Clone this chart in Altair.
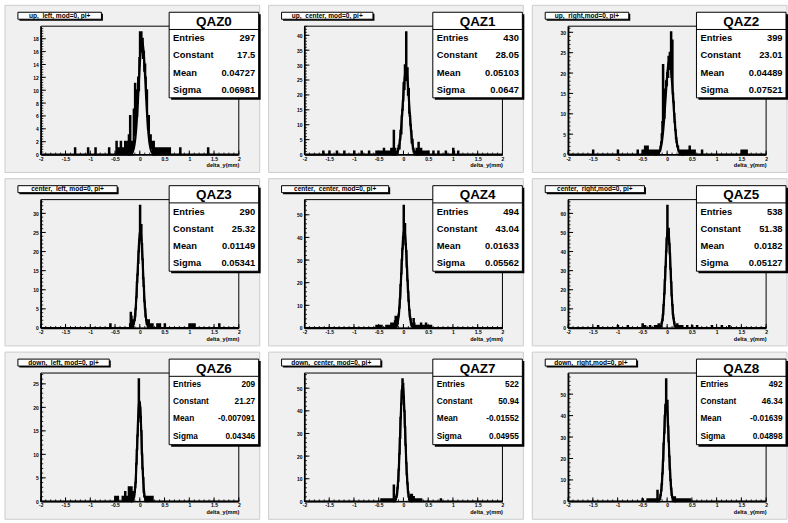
import altair as alt
import numpy as np
import pandas as pd

# ---------------- data ----------------
BIN_W = 0.0125
X_LO, X_HI = -2.0, 2.0

panel_titles = [
    "up,  left, mod=0, pi+", "up,  center, mod=0, pi+", "up,  right,mod=0, pi+",
    "center,  left, mod=0, pi+", "center,  center, mod=0, pi+", "center,  right,mod=0, pi+",
    "down,  left, mod=0, pi+", "down,  center, mod=0, pi+", "down,  right,mod=0, pi+",
]
stat_names = ["QAZ0", "QAZ1", "QAZ2", "QAZ3", "QAZ4", "QAZ5", "QAZ6", "QAZ7", "QAZ8"]
stat_entries = [297, 430, 399, 290, 494, 538, 209, 522, 492]
stat_constant = [17.5, 28.05, 23.01, 25.32, 43.04, 51.38, 21.27, 50.94, 46.34]
stat_mean = [0.04727, 0.05103, 0.04489, 0.01149, 0.01633, 0.0182, -0.007091, -0.01552, -0.01639]
stat_sigma = [0.06981, 0.0647, 0.07521, 0.05341, 0.05562, 0.05127, 0.04346, 0.04955, 0.04898]

y_tick_step = [2, 5, 5, 5, 10, 10, 5, 10, 10]
y_tick_top = [18, 40, 30, 30, 50, 60, 25, 50, 50]

x_tick_labels = [-2, -1.5, -1, -0.5, 0, 0.5, 1, 1.5, 2]

peak_start = [-0.175, -0.15, -0.2, -0.15, -0.15, -0.15, -0.125, -0.175, -0.175]
peak_counts = [
    [1, 0, 2, 1, 7, 3, 11, 4, 10, 6, 8, 12, 10, 15, 19, 17, 19, 16, 18, 15, 16, 13, 14, 12, 9, 10, 6, 4, 6, 3, 2, 3, 1, 1, 2, 0],
    [0, 1, 1, 2, 3, 2, 5, 8, 7, 13, 15, 18, 24, 22, 30, 26, 41, 25, 29, 20, 22, 14, 13, 10, 8, 4, 5, 2, 1, 1, 0, 1],
    [0, 1, 0, 1, 1, 2, 3, 5, 8, 22, 12, 9, 14, 16, 18, 17, 20, 19, 24, 21, 25, 23, 30, 19, 28, 15, 13, 10, 8, 6, 4, 3, 2, 2, 1, 1, 0, 1, 0, 0],
    [0, 1, 2, 2, 3, 5, 8, 12, 14, 17, 20, 23, 32, 24, 27, 22, 18, 13, 11, 7, 5, 3, 2, 1, 1, 0],
    [1, 1, 2, 5, 6, 9, 13, 19, 24, 30, 35, 40, 54, 44, 46, 37, 34, 27, 21, 16, 12, 8, 5, 4, 2, 1, 1, 0],
    [0, 1, 1, 3, 4, 7, 12, 18, 25, 32, 40, 47, 64, 50, 52, 44, 39, 31, 24, 17, 12, 7, 5, 3, 1, 1, 0, 0],
    [1, 2, 3, 4, 8, 11, 14, 17, 26, 21, 20, 18, 15, 10, 7, 5, 2, 1, 1, 0],
    [0, 1, 2, 3, 6, 9, 14, 21, 28, 37, 43, 49, 54, 52, 46, 40, 33, 25, 17, 12, 8, 4, 2, 1, 1, 0],
    [0, 1, 1, 3, 5, 8, 13, 19, 27, 32, 40, 45, 57, 43, 47, 35, 28, 21, 15, 10, 6, 3, 2, 1, 0, 0],
]
tail_x = [
    [-1.31, -1.05, -0.9, -0.62, -0.47, -0.43, -0.38, -0.33, -0.3, -0.27, -0.25, -0.22, -0.2, -0.19,
     0.28, 0.3, 0.33, 0.36, 0.4, 0.45, 0.5, 0.55, 0.6, 0.82, 1.38],
    [-1.62, -1.5, -1.35, -1.2, -1.0, -0.85, -0.7, -0.55, -0.5, -0.45, -0.4, -0.35, -0.3, -0.25, -0.2, -0.19, -0.175, -0.16,
     0.27, 0.3, 0.32, 0.35, 0.4, 0.45, 0.5, 0.6, 0.7, 0.85, 1.0, 1.02, 1.1],
    [-1.5, -1.0, -0.6, -0.5, -0.45, -0.4, -0.35, -0.3, -0.25, -0.21,
     0.32, 0.35, 0.4, 0.45, 0.5, 0.55, 0.7, 1.5, 1.55, 1.6],
    [-0.6, -0.2, -0.18, -0.165, 0.18, 0.2, 0.25, 0.35, 0.4, 0.5, 1.0, 1.05, 1.1, 1.6],
    [-0.55, -0.5, -0.45, -0.35, -0.3, -0.25, -0.2, -0.17, -0.16,
     0.2, 0.22, 0.25, 0.3, 0.35, 0.4, 0.45, 0.5, 0.55],
    [-1.4, -1.0, -0.8, -0.5, -0.45, -0.35, -0.25, -0.2, -0.17,
     0.2, 0.25, 0.3, 0.4, 0.5, 0.6, 0.9, 1.1, 1.25],
    [-0.5, -0.45, -0.35, -0.3, -0.25, -0.22, -0.2, -0.17, -0.15, -0.13,
     0.13, 0.15, 0.18, 0.2, 0.22, 0.25],
    [-0.45, -0.4, -0.35, -0.3, -0.25, -0.2, -0.19, 0.15, 0.17, 0.2, 0.25, 0.3, 0.35, 0.75],
    [-0.5, -0.4, -0.35, -0.3, -0.25, -0.2, -0.19, 0.15, 0.2, 0.25, 0.3, 0.35, 0.4, 0.45],
]
tail_n = [
    [1, 1, 1, 1, 2, 1, 2, 1, 2, 1, 2, 3, 2, 4, 2, 1, 1, 1, 1, 1, 1, 1, 1, 1, 1],
    [1, 1, 1, 1, 1, 1, 1, 1, 1, 1, 2, 1, 1, 2, 5, 3, 2, 1, 2, 4, 1, 2, 1, 1, 1, 1, 1, 1, 2, 1, 1],
    [1, 1, 1, 1, 2, 2, 1, 1, 1, 1, 1, 1, 1, 2, 1, 1, 1, 1, 1, 1],
    [1, 1, 4, 3, 2, 1, 1, 1, 1, 1, 1, 1, 1, 1],
    [1, 1, 1, 1, 1, 2, 2, 3, 5, 4, 2, 1, 1, 2, 1, 2, 1, 1],
    [1, 1, 1, 2, 1, 1, 1, 1, 2, 2, 1, 1, 1, 1, 1, 1, 1, 1],
    [1, 1, 1, 2, 1, 3, 2, 3, 1, 2, 1, 1, 1, 1, 1, 1],
    [1, 1, 1, 1, 1, 2, 5, 3, 3, 2, 1, 1, 1, 1],
    [1, 1, 1, 1, 1, 2, 3, 2, 1, 1, 1, 1, 1, 1],
]

# ---------------- layout / style ----------------
W, H = 199, 129
FONT = "Liberation Sans"
PAD_FILL = "#f0f0f0"


def rect(x1, x2, y1, y2, **kw):
    return alt.Chart().mark_rect(**kw).encode(
        x=alt.value(x1), x2=alt.value(x2), y=alt.value(y1), y2=alt.value(y2))


def txt(s, x, y, size, align="left"):
    return alt.Chart().mark_text(
        text=s, fontSize=size, font=FONT, fontWeight="bold", align=align,
        baseline="middle", color="black").encode(x=alt.value(x), y=alt.value(y))


def panel(i):
    nb = int(round((X_HI - X_LO) / BIN_W))
    counts = np.zeros(nb)
    s = int(round((peak_start[i] - X_LO) / BIN_W))
    for j, c in enumerate(peak_counts[i]):
        counts[s + j] += c
    for xv, n in zip(tail_x[i], tail_n[i]):
        counts[int(np.floor((xv - X_LO) / BIN_W + 1e-9))] += n
    centers = X_LO + (np.arange(nb) + 0.5) * BIN_W
    hist = pd.DataFrame({"x": centers, "n": counts})
    ymax = float(counts.max()) * 1.05

    xs = alt.Scale(domain=[X_LO, X_HI], nice=False, zero=False)
    ys = alt.Scale(domain=[0, ymax], nice=False, zero=True)

    step = y_tick_step[i]
    ymaj = [float(v) for v in np.arange(0, y_tick_top[i] + step / 2, step)]
    ymin = [float(v) for v in np.arange(0, ymax, step / 5.0)]
    xmaj = x_tick_labels
    xmin = [float(v) for v in np.round(np.arange(X_LO, X_HI + 0.05, 0.1), 3)]

    ax_x = alt.Axis(
        values=xmaj, ticks=False, grid=False, zindex=1,
        labelExpr="datum.value == 0 ? '0' : (datum.value < 0 ? '-' : '') + abs(datum.value)",
        labelFontSize=5, labelFont=FONT, labelFontWeight="bold", labelPadding=1.5,
        labelFlush=False, labelOverlap=False, labelColor="black",
        domainColor="black", domainWidth=1.5,
        title="delta_y(mm)", titleAnchor="end", titleAlign="right", titleFontSize=5.6,
        titleFont=FONT, titleFontWeight="bold", titlePadding=2, titleColor="black")
    ax_y = alt.Axis(
        values=ymaj, ticks=False, grid=False, zindex=1, title="",
        labelFontSize=5, labelFont=FONT, labelFontWeight="bold", labelPadding=2.5,
        labelFlush=False, labelOverlap=False, labelColor="black",
        domainColor="black", domainWidth=1.5)

    layers = []
    # pad & frame
    layers.append(rect(-36, 220, -21, 147, fill=PAD_FILL, stroke="#cccccc", strokeWidth=1))
    layers.append(rect(0, W, 0, H, fill="white", fillOpacity=0, stroke="black", strokeWidth=1))

    # ticks (inward, ROOT style)
    layers.append(alt.Chart(pd.DataFrame({"v": ymin})).mark_rule(color="black", strokeWidth=0.8).encode(
        y=alt.Y("v:Q", scale=ys, axis=ax_y), x=alt.value(0), x2=alt.value(2.5)))
    layers.append(alt.Chart(pd.DataFrame({"v": ymaj})).mark_rule(color="black", strokeWidth=1).encode(
        y=alt.Y("v:Q", scale=ys, axis=ax_y), x=alt.value(0), x2=alt.value(5)))
    layers.append(alt.Chart(pd.DataFrame({"v": xmin})).mark_rule(color="black", strokeWidth=0.8).encode(
        x=alt.X("v:Q", scale=xs, axis=ax_x), y=alt.value(H), y2=alt.value(H - 2)))
    layers.append(alt.Chart(pd.DataFrame({"v": xmaj})).mark_rule(color="black", strokeWidth=1).encode(
        x=alt.X("v:Q", scale=xs, axis=ax_x), y=alt.value(H), y2=alt.value(H - 4)))

    # histogram
    layers.append(alt.Chart(hist).mark_line(interpolate="step", color="black", strokeWidth=1.9).encode(
        x=alt.X("x:Q", scale=xs, axis=ax_x),
        y=alt.Y("n:Q", scale=ys, axis=ax_y),
    ))

    # gaussian fit from the fitted parameters
    C, mu, sg = stat_constant[i], stat_mean[i], stat_sigma[i]
    layers.append(alt.Chart(alt.sequence(mu - 4 * sg, mu + 4 * sg, sg / 25.0, as_="x")).transform_calculate(
        f=f"{C}*exp(-0.5*pow((datum.x-({mu}))/{sg},2))").mark_line(color="black", strokeWidth=2.2).encode(
        x=alt.X("x:Q", scale=xs, axis=ax_x), y=alt.Y("f:Q", scale=ys, axis=ax_y)))

    # title box
    t = panel_titles[i]
    tw = len(t) * 3.95 + 1
    layers.append(rect(-21.5, -23 + tw + 1.5, -12.5, -5.5, fill="black"))
    layers.append(rect(-23, -23 + tw, -14, -7, fill="white", stroke="black", strokeWidth=1))
    layers.append(txt(t.replace("  ", " \u00a0"), -23 + tw / 2, -10.3, 6.6, align="center"))

    # stats box
    bx1, bx2, by1, by2 = 129, 219, -14, 72
    layers.append(rect(bx1 + 2, bx2 + 2, by1 + 2, by2 + 2, fill="black"))
    layers.append(rect(bx1, bx2, by1, by2, fill="white", stroke="black", strokeWidth=1))
    layers.append(alt.Chart().mark_rule(color="black", strokeWidth=1).encode(
        x=alt.value(bx1), x2=alt.value(bx2), y=alt.value(3.3)))
    layers.append(txt(stat_names[i], (bx1 + bx2) / 2, -4.5, 13.5, align="center"))
    fs = 8.3 if i >= 6 else 9.4
    labels = ["Entries", "Constant", "Mean", "Sigma"]
    values = [str(stat_entries[i]), str(stat_constant[i]), str(stat_mean[i]), str(stat_sigma[i])]
    rows_y = [12, 29.3, 46.7, 64]
    for lab, val, yy in zip(labels, values, rows_y):
        layers.append(txt(lab, bx1 + 4, yy, fs, align="left"))
        layers.append(txt(val, bx2 - 3.5, yy, fs, align="right"))

    return alt.layer(*layers, data=pd.DataFrame({"k": [0]})).properties(width=W, height=H)


chart = alt.concat(
    *[panel(i) for i in range(9)], columns=3,
    spacing=alt.RowColnumber(row=45.3, column=66), bounds="flush",
).properties(
    padding={"left": 4, "top": 3, "right": 0, "bottom": 0},
    autosize=alt.AutoSizeParams(type="pad"),
    background="white",
).configure_view(strokeWidth=0)

chart.save("out.html", embed_options={"renderer": "svg", "actions": False})
